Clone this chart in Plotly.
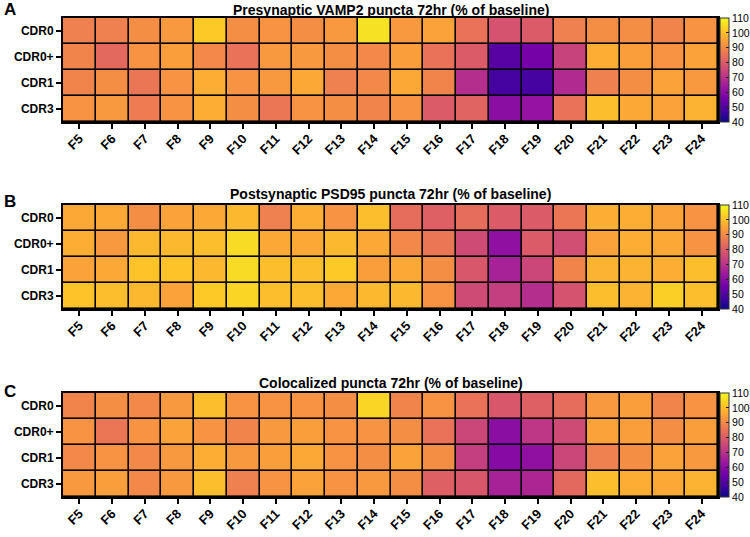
import plotly.graph_objects as go

fragments = ["F5", "F6", "F7", "F8", "F9", "F10", "F11", "F12", "F13", "F14",
             "F15", "F16", "F17", "F18", "F19", "F20", "F21", "F22", "F23", "F24"]
cdrs = ["CDR0", "CDR0+", "CDR1", "CDR3"]

titles = ["Presynaptic VAMP2 puncta 72hr (% of baseline)",
          "Postsynaptic PSD95 puncta 72hr (% of baseline)",
          "Colocalized puncta 72hr (% of baseline)"]
letters = ["A", "B", "C"]

vamp2 = [
    [88, 88, 91, 93, 102, 91, 92, 91, 93, 106, 93, 95, 85, 78, 80, 88, 91, 91, 89, 92],
    [89, 83, 92, 94, 90, 85, 93, 93, 91, 90, 94, 85, 80, 51, 56, 74, 97, 94, 92, 95],
    [89, 91, 86, 92, 97, 92, 93, 96, 88, 90, 96, 89, 69, 48, 48, 68, 88, 91, 95, 93],
    [92, 93, 87, 92, 97, 91, 86, 92, 91, 89, 92, 80, 82, 60, 62, 85, 100, 96, 95, 98],
]
psd95 = [
    [96, 96, 91, 95, 96, 99, 88, 97, 92, 100, 84, 81, 84, 80, 80, 86, 97, 97, 95, 92],
    [97, 93, 99, 99, 100, 105, 96, 96, 99, 96, 90, 86, 76, 61, 80, 77, 95, 97, 96, 92],
    [95, 96, 101, 101, 99, 105, 100, 100, 102, 94, 96, 91, 79, 66, 75, 89, 98, 98, 97, 100],
    [101, 100, 99, 95, 102, 104, 100, 100, 96, 99, 99, 92, 76, 73, 69, 78, 100, 98, 103, 100],
]
coloc = [
    [89, 91, 90, 93, 100, 92, 92, 92, 91, 104, 89, 92, 85, 79, 81, 84, 93, 94, 89, 92],
    [92, 86, 92, 95, 92, 89, 93, 94, 92, 92, 91, 85, 75, 60, 71, 76, 95, 94, 91, 94],
    [90, 92, 90, 93, 97, 93, 94, 96, 92, 91, 95, 91, 73, 59, 61, 75, 88, 91, 95, 93],
    [93, 94, 90, 93, 100, 88, 92, 95, 92, 93, 91, 81, 79, 66, 67, 83, 100, 97, 96, 98],
]
panels = [vamp2, psd95, coloc]
cbar_ticks = [40, 50, 60, 70, 80, 90, 100, 110]

W, H = 750, 537
x0, x1 = 63, 718
ybands = [(18, 122), (205, 309), (393, 497)]
title_y = [10, 194, 383]
letter_y = [10, 202, 391]

FONT = "Liberation Sans, Arial, sans-serif"
fig = go.Figure()
layout = dict(width=W, height=H,
              margin=dict(l=0, r=0, t=0, b=0, autoexpand=False),
              paper_bgcolor="white", plot_bgcolor="black",
              font=dict(family=FONT, color="black"), showlegend=False)
annotations = []
for i, z in enumerate(panels):
    sfx = "" if i == 0 else str(i + 1)
    top, bot = ybands[i]
    dom_y = [1 - bot / H, 1 - top / H]
    fig.add_trace(go.Heatmap(
        z=z, x=fragments, y=cdrs, zmin=40, zmax=110, colorscale="Plasma",
        xgap=1.6, ygap=1.6, xaxis="x" + sfx, yaxis="y" + sfx,
        hoverinfo="skip",
        colorbar=dict(x=720 / W, xanchor="left", xpad=0, ypad=0,
                      y=(dom_y[0] + dom_y[1]) / 2, yanchor="middle",
                      len=(bot - top) / H, lenmode="fraction", thickness=9,
                      outlinewidth=1, outlinecolor="#333",
                      tickvals=cbar_ticks, ticks="inside", ticklen=3,
                      tickcolor="#222",
                      tickfont=dict(size=10.5, family=FONT, color="black")),
    ))
    layout["xaxis" + sfx] = dict(domain=[x0 / W, x1 / W], anchor="y" + sfx,
                                 tickangle=-45, ticks="outside", ticklen=5, tickwidth=1.5,
                                 tickcolor="black", showline=True, linewidth=2,
                                 linecolor="black", mirror=True, showgrid=False,
                                 zeroline=False, ticklabelstandoff=-3,
                                 tickfont=dict(size=13, family=FONT, weight="bold"))
    layout["yaxis" + sfx] = dict(domain=dom_y, anchor="x" + sfx, autorange="reversed",
                                 ticks="outside", ticklen=5, tickwidth=1.5,
                                 tickcolor="black", showline=True, linewidth=2,
                                 linecolor="black", mirror=True, showgrid=False,
                                 zeroline=False,
                                 tickfont=dict(size=12, family=FONT, weight="bold"))
    annotations.append(dict(text=titles[i], xref="paper", yref="paper",
                            x=(x0 + x1) / 2 / W, y=1 - title_y[i] / H,
                            xanchor="center", yanchor="middle", showarrow=False,
                            font=dict(size=14, family=FONT, weight="bold")))
    annotations.append(dict(text=letters[i], xref="paper", yref="paper",
                            x=2 / W, y=1 - letter_y[i] / H,
                            xanchor="left", yanchor="middle", showarrow=False,
                            font=dict(size=17, family=FONT, weight="bold")))
layout["annotations"] = annotations
fig.update_layout(**layout)
fig.write_html("out.html", config={"displayModeBar": False},
               post_script="document.body.style.margin='0px';document.body.style.overflow='hidden';")
